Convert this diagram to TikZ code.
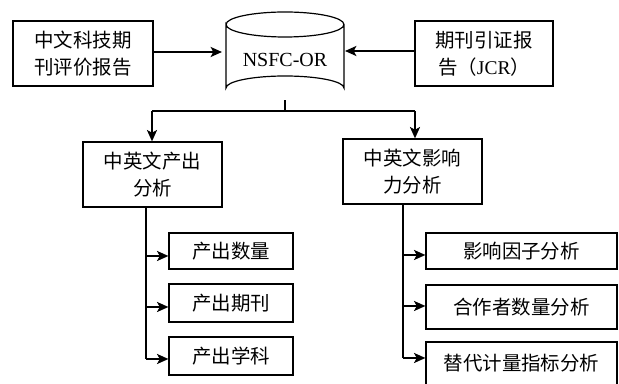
\documentclass[tikz,border=0pt]{standalone}
\usepackage{fontspec}
\setmainfont{Liberation Serif}
\newfontfamily\cjk{Noto Sans CJK SC}
\usetikzlibrary{arrows.meta}
\begin{document}
\begin{tikzpicture}[x=0.75pt,y=-0.75pt,
  box/.style={draw,line width=0.9pt,rectangle,align=center,inner sep=0pt,
    font=\fontsize{14.6pt}{20pt}\selectfont\cjk},
  arr/.style={line width=1.5pt,-{Stealth[length=8.5pt,width=7.5pt,inset=2pt]}},
  thinline/.style={line width=0.8pt}]
\useasboundingbox (0,0) rectangle (619,384);
\clip (0,0) rectangle (619,384);
\fill[white] (0,0) rectangle (619,384);
% sources
\node[box,minimum width=140*0.75pt,minimum height=65*0.75pt] (src1) at (83,53.5) {中文科技期\\刊评价报告};
\node[box,minimum width=138*0.75pt,minimum height=65*0.75pt] (src2) at (484,53.5) {期刊引证报\\告（{\rmfamily JCR}）};
% cylinder
\draw[line width=0.9pt] (226,24.5) arc[start angle=180,end angle=360,x radius=59,y radius=12.5]
  arc[start angle=0,end angle=180,x radius=59,y radius=12.5] -- (226,88)
  arc[start angle=180,end angle=360,x radius=59,y radius=12] -- (344,24.5);
\node[minimum width=118*0.75pt,minimum height=88*0.75pt,inner sep=0pt] (db) at (285,56) {};
\node[font=\fontsize{15pt}{18pt}\selectfont] (dblabel) at (285,60) {NSFC-OR};
\coordinate (dbw) at (222,52);
\coordinate (dbe) at (345,51);
\draw[arr] (src1.east |- dbw) -- (dbw);
\draw[arr] (src2.west |- dbe) -- (dbe);
% mid boxes
\node[box,minimum width=139*0.75pt,minimum height=65*0.75pt] (mid1) at (152.5,174.5) {中英文产出\\分析};
\node[box,minimum width=139*0.75pt,minimum height=65*0.75pt] (mid2) at (412.5,171.5) {中英文影响\\力分析};
\coordinate (stem) at (285,111);
\coordinate (hj1) at (152,111);
\coordinate (hj2) at (415,111);
\draw[thinline] (db.south) -- (stem);
\draw[thinline] (hj1) -- (hj2);
\draw[arr] (hj1) -- (hj1 |- mid1.north);
\draw[arr] (hj2) -- (hj2 |- mid2.north);
% leaves left
\node[box,minimum width=124*0.75pt,minimum height=36*0.75pt] (l1) at (231,251) {产出数量};
\node[box,minimum width=124*0.75pt,minimum height=38*0.75pt] (l2) at (231,303) {产出期刊};
\node[box,minimum width=124*0.75pt,minimum height=38*0.75pt] (l3) at (231,356) {产出学科};
\coordinate (lt) at (146,207);
\coordinate (lj1) at (146,256);
\coordinate (lj2) at (146,307);
\coordinate (lj3) at (146,359);
\draw[line width=1pt] (lt) -- (lj3);
\draw[arr] (lj1) -- (lj1 -| l1.west);
\draw[arr] (lj2) -- (lj2 -| l2.west);
\draw[arr] (lj3) -- (lj3 -| l3.west);
% leaves right
\node[box,minimum width=191*0.75pt,minimum height=36*0.75pt] (r1) at (521.5,251) {影响因子分析};
\node[box,minimum width=191*0.75pt,minimum height=44*0.75pt] (r2) at (521.5,307) {合作者数量分析};
\node[box,minimum width=191*0.75pt,minimum height=44*0.75pt] (r3) at (521.5,364) {\raisebox{3pt}{替代计量指标分析}};
\coordinate (rt) at (403,204);
\coordinate (rj1) at (403,255);
\coordinate (rj2) at (403,306);
\coordinate (rj3) at (403,358);
\draw[line width=1pt] (rt) -- (rj3);
\draw[arr] (rj1) -- (rj1 -| r1.west);
\draw[arr] (rj2) -- (rj2 -| r2.west);
\draw[arr] (rj3) -- (rj3 -| r3.west);
\end{tikzpicture}
\end{document}
